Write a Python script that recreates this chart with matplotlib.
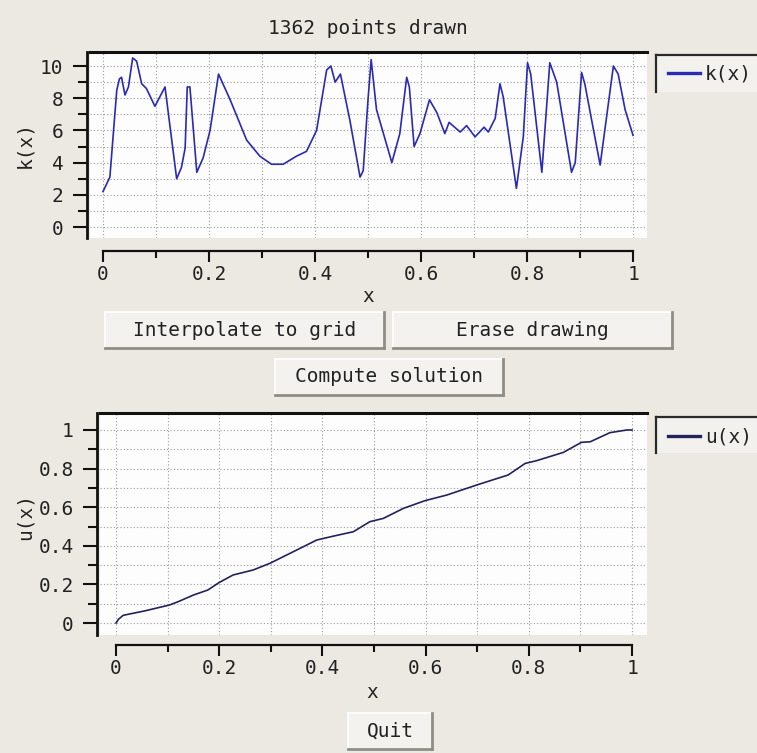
import matplotlib
matplotlib.use("Agg")
import matplotlib.pyplot as plt
from matplotlib.patches import Rectangle
from matplotlib.lines import Line2D
from matplotlib.ticker import FixedLocator

plt.rcParams['font.family'] = ['DejaVu Sans Mono']

# ---------------- data ----------------
title_text = "1362 points drawn"

k_x = [0, 0.013, 0.026, 0.031, 0.035, 0.0415, 0.048, 0.056, 0.0635, 0.073,
       0.082, 0.098, 0.117, 0.139, 0.148, 0.155, 0.159, 0.164, 0.177, 0.189,
       0.202, 0.218, 0.240, 0.271, 0.296, 0.318, 0.340, 0.365, 0.384, 0.403,
       0.422, 0.430, 0.438, 0.448, 0.466, 0.485, 0.491, 0.500, 0.506, 0.516,
       0.545, 0.560, 0.573, 0.578, 0.587, 0.598, 0.616, 0.630, 0.645, 0.653,
       0.674, 0.686, 0.702, 0.719, 0.727, 0.740, 0.749, 0.755, 0.780, 0.793,
       0.801, 0.807, 0.828, 0.843, 0.856, 0.884, 0.891, 0.903, 0.909, 0.938,
       0.963, 0.972, 0.985, 1.0]
k_y = [2.2, 3.1, 8.5, 9.2, 9.3, 8.2, 8.7, 10.5, 10.3, 8.9,
       8.6, 7.5, 8.7, 3.0, 3.7, 4.9, 8.7, 8.7, 3.4, 4.3,
       6.0, 9.5, 7.9, 5.4, 4.4, 3.9, 3.9, 4.4, 4.7, 6.0,
       9.75, 10.0, 9.0, 9.5, 6.6, 3.1, 3.5, 7.9, 10.4, 7.3,
       4.0, 5.8, 9.3, 8.7, 5.0, 5.8, 7.9, 7.1, 5.8, 6.5,
       5.9, 6.3, 5.6, 6.2, 5.9, 6.75, 8.9, 8.1, 2.4, 5.6,
       10.2, 9.5, 3.4, 10.2, 9.0, 3.4, 4.0, 9.6, 8.9, 3.85,
       10.0, 9.5, 7.3, 5.7]

u_x = [0, 0.005, 0.014, 0.056, 0.103, 0.12, 0.15, 0.178, 0.2, 0.227,
       0.266, 0.298, 0.344, 0.389, 0.421, 0.46, 0.492, 0.518, 0.557, 0.599,
       0.641, 0.699, 0.76, 0.793, 0.815, 0.867, 0.902, 0.919, 0.957, 0.99,
       1.0]
u_y = [0, 0.02, 0.04, 0.063, 0.093, 0.11, 0.145, 0.171, 0.21, 0.249,
       0.275, 0.309, 0.37, 0.43, 0.45, 0.473, 0.525, 0.542, 0.594, 0.634,
       0.663, 0.715, 0.767, 0.827, 0.841, 0.884, 0.936, 0.939, 0.986, 1.0,
       1.0]

x_ticks = [0, 0.2, 0.4, 0.6, 0.8, 1.0]
x_ticklabels = ["0", "0.2", "0.4", "0.6", "0.8", "1"]
k_ticks = [0, 2, 4, 6, 8, 10]
k_ticklabels = ["0", "2", "4", "6", "8", "10"]
u_ticks = [0, 0.2, 0.4, 0.6, 0.8, 1.0]
u_ticklabels = ["0", "0.2", "0.4", "0.6", "0.8", "1"]

button_labels = ["Interpolate to grid", "Erase drawing", "Compute solution", "Quit"]

# ---------------- styling ----------------
W, H = 757, 753
BG = '#ece9e2'
TXT = '#222222'
FS = 14

fig = plt.figure(figsize=(W / 100, H / 100), dpi=100, facecolor=BG)


def fx(px):
    return px / W


def fy(py):
    return 1 - py / H


def style_axes(ax, xlim, ylim, yticks, yticklabels, yminor, xspine_out):
    ax.set_facecolor('#fdfdfd')
    ax.set_xlim(*xlim)
    ax.set_ylim(*ylim)
    ax.spines['right'].set_visible(False)
    ax.spines['top'].set_linewidth(2.2)
    ax.spines['top'].set_color('#111111')
    ax.spines['left'].set_linewidth(2.0)
    ax.spines['left'].set_color('#111111')
    ax.spines['left'].set_position(('outward', 2))
    ax.spines['bottom'].set_position(('outward', xspine_out))
    ax.spines['bottom'].set_bounds(0, 1)
    ax.spines['bottom'].set_linewidth(1.6)
    ax.spines['bottom'].set_color('#111111')
    ax.set_xticks(x_ticks)
    ax.set_xticklabels(x_ticklabels)
    ax.xaxis.set_minor_locator(FixedLocator([0.1, 0.3, 0.5, 0.7, 0.9]))
    ax.set_yticks(yticks)
    ax.set_yticklabels(yticklabels)
    ax.yaxis.set_minor_locator(FixedLocator(yminor))
    ax.tick_params(axis='x', which='major', direction='out', length=8, width=1.5,
                   pad=2.5, labelsize=FS, labelcolor=TXT, colors='#111111')
    ax.tick_params(axis='x', which='minor', direction='out', length=5, width=1.5,
                   colors='#111111')
    ax.tick_params(axis='y', which='major', direction='out', length=10, width=1.5,
                   pad=7, labelsize=FS, labelcolor=TXT, colors='#111111')
    ax.tick_params(axis='y', which='minor', direction='out', length=6.5, width=1.5,
                   colors='#111111')
    ax.grid(which='both', color='#9a9a9a', linestyle=(0, (1, 2)), linewidth=0.8)
    ax.set_axisbelow(True)


# ---------------- top axes ----------------
ax1 = fig.add_axes([fx(90), fy(238), (647 - 90) / W, (238 - 52) / H])
style_axes(ax1, (-0.0245, 1.0264), (-0.68, 10.87), k_ticks, k_ticklabels,
           [1, 3, 5, 7, 9], 9)
ax1.plot(k_x, k_y, color='#2a2ab4', linewidth=1.2, label='k(x)')
ax1.set_xlabel('x', fontsize=FS, color=TXT, va='center')
ax1.xaxis.set_label_coords((368 - 90) / 557, (238 - 297) / 186)
ax1.set_ylabel('k(x)', fontsize=FS, color=TXT, va='center')
ax1.yaxis.set_label_coords((25 - 90) / 557, 0.5)

# ---------------- bottom axes ----------------
ax2 = fig.add_axes([fx(100), fy(635), (647 - 100) / W, (635 - 413) / H])
style_axes(ax2, (-0.031, 1.029), (-0.062, 1.088), u_ticks, u_ticklabels,
           [0.1, 0.3, 0.5, 0.7, 0.9], 7)
ax2.plot(u_x, u_y, color='#22225e', linewidth=1.2, label='u(x)')
ax2.set_xlabel('x', fontsize=FS, color=TXT, va='center')
ax2.xaxis.set_label_coords((372 - 100) / 547, (635 - 693) / 222)
ax2.set_ylabel('u(x)', fontsize=FS, color=TXT, va='center')
ax2.yaxis.set_label_coords((25 - 100) / 547, (635 - 516) / 222)

# ---------------- title ----------------
fig.text(fx(368), fy(28), title_text, ha='center', va='center',
         fontsize=FS, color=TXT)


# ---------------- legends ----------------
def legend_box(ax, y0, y1, ymid):
    fig.add_artist(Rectangle((fx(656), fy(y1)), (W - 656) / W, (y1 - y0) / H,
                             transform=fig.transFigure, facecolor='#f2f1ed',
                             edgecolor='none', zorder=-2))
    fig.add_artist(Line2D([fx(656), fx(W)], [fy(y0), fy(y0)],
                          transform=fig.transFigure, color='#2a2a2a', lw=1.6,
                          zorder=-1))
    fig.add_artist(Line2D([fx(656), fx(656)], [fy(y0), fy(y1)],
                          transform=fig.transFigure, color='#2a2a2a', lw=1.6,
                          zorder=-1))
    leg = ax.legend(loc='center left', bbox_to_anchor=(fx(668), fy(ymid)),
                    bbox_transform=fig.transFigure, frameon=False,
                    borderpad=0, borderaxespad=0, handlelength=1.65,
                    handletextpad=0.25, fontsize=FS)
    for t in leg.get_texts():
        t.set_color(TXT)
    for ln in leg.get_lines():
        ln.set_linewidth(2.4)
    return leg


legend_box(ax1, 55, 92, 74)
legend_box(ax2, 417, 453, 437)


# ---------------- buttons ----------------
def button(x0, y0, x1, y1, label):
    fig.add_artist(Rectangle((fx(x0), fy(y1)), (x1 - x0) / W, (y1 - y0) / H,
                             transform=fig.transFigure, facecolor='#f3f2ee',
                             edgecolor='none'))
    fig.add_artist(Line2D([fx(x0), fx(x1)], [fy(y0), fy(y0)],
                          transform=fig.transFigure, color='#ffffff', lw=1.2))
    fig.add_artist(Line2D([fx(x0), fx(x0)], [fy(y0), fy(y1)],
                          transform=fig.transFigure, color='#ffffff', lw=1.2))
    fig.add_artist(Line2D([fx(x0), fx(x1)], [fy(y1), fy(y1)],
                          transform=fig.transFigure, color='#8e8d86', lw=2.0))
    fig.add_artist(Line2D([fx(x1), fx(x1)], [fy(y0), fy(y1)],
                          transform=fig.transFigure, color='#8e8d86', lw=2.0))
    fig.text(fx((x0 + x1) / 2), fy((y0 + y1) / 2), label, ha='center',
             va='center', fontsize=FS, color=TXT)


button(105, 312, 384, 348, button_labels[0])
button(393, 312, 672, 348, button_labels[1])
button(275, 359, 503, 395, button_labels[2])
button(348, 713, 432, 749, button_labels[3])

fig.savefig('out.png', dpi=100, facecolor=BG)
